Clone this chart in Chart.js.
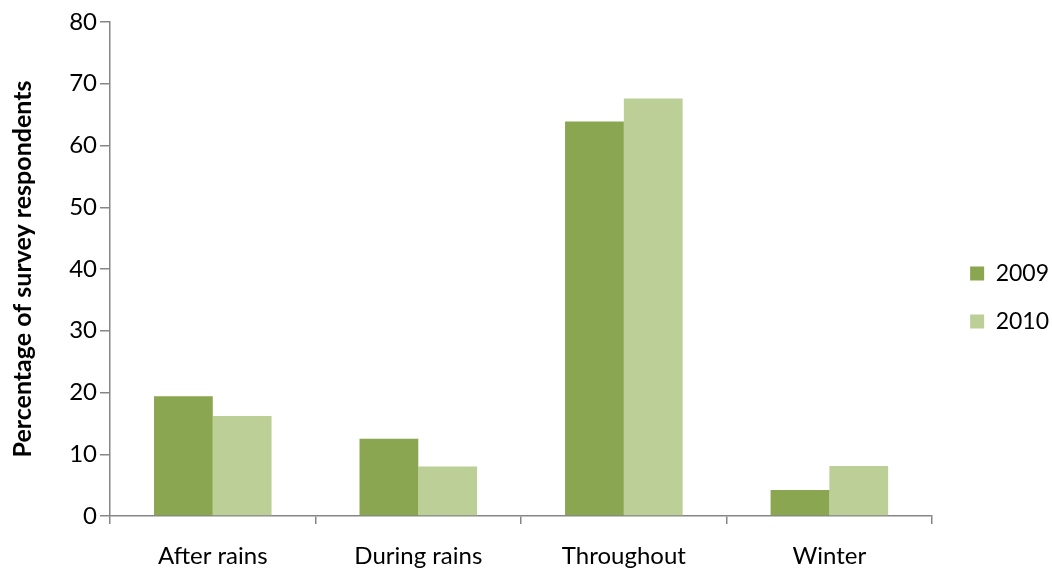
<!DOCTYPE html>
<html>
<head>
<meta charset="utf-8">
<script src="https://cdn.jsdelivr.net/npm/chart.js@4"></script>
<style>
  html, body { margin: 0; padding: 0; background: #fff; }
  #wrap { width: 1052px; height: 573px; }
</style>
</head>
<body>
<div id="wrap"><canvas id="seasonChart"></canvas></div>
<script>
var categories = ["After rains", "During rains", "Throughout", "Winter"];
var seriesNames = ["2009", "2010"];
var values2009 = [19.4, 12.5, 63.9, 4.2];
var values2010 = [16.2, 8.0, 67.6, 8.1];
var yTicks = [0, 10, 20, 30, 40, 50, 60, 70, 80];

var axisGrey = "#868686";
var fontName = "Lato, 'Open Sans', sans-serif";

// legend sits a bit further right than Chart.js puts it
var legendNudge = {
  id: "legendNudge",
  afterLayout: function (chart) {
    chart.legend.left += 13;
    chart.legend.right += 13;
  },
};

function createChart() {
  const ctx = document.getElementById("seasonChart").getContext("2d");
  return new Chart(ctx, {
    type: "bar",
    data: {
      labels: categories,
      datasets: [
        {
          label: seriesNames[0],
          backgroundColor: "rgb(138, 166, 80)",
          data: values2009,
          categoryPercentage: 0.572,
          barPercentage: 1.0,
        },
        {
          label: seriesNames[1],
          backgroundColor: "rgb(187, 207, 151)",
          data: values2010,
          categoryPercentage: 0.572,
          barPercentage: 1.0,
        },
      ],
    },
    plugins: [legendNudge],
    options: {
      responsive: true,
      maintainAspectRatio: false,
      animation: false,
      layout: { padding: { top: 22, right: 6, bottom: 0, left: 0 } },
      plugins: {
        tooltip: { enabled: false },
        legend: {
          position: "right",
          maxWidth: 116,
          labels: {
            boxWidth: 14,
            boxHeight: 14,
            padding: 25,
            color: "#000",
            font: { family: fontName, size: 23 },
          },
        },
      },
      scales: {
        x: {
          afterFit: function (scale) {
            scale.height = 57;
          },
          border: { color: axisGrey, width: 1.5 },
          grid: { offset: true, drawOnChartArea: false, tickLength: 8, color: axisGrey, lineWidth: 1.5 },
          ticks: { color: "#000", padding: 18, font: { family: fontName, size: 24 } },
        },
        y: {
          min: 0,
          max: 80,
          afterBuildTicks: function (axis) {
            axis.ticks = yTicks.map((v) => ({ value: v }));
          },
          afterFit: function (scale) {
            scale.width = 110;
          },
          border: { color: axisGrey, width: 1.5 },
          grid: { drawOnChartArea: false, tickLength: 10, color: axisGrey, lineWidth: 1.5 },
          ticks: { color: "#000", padding: 3, font: { family: fontName, size: 24 } },
          title: {
            display: true,
            text: "Percentage of survey respondents",
            color: "#000",
            padding: { top: 8, bottom: 0 },
            font: { family: fontName, size: 25, weight: "bold" },
          },
        },
      },
    },
  });
}

createChart();
</script>
</body>
</html>
